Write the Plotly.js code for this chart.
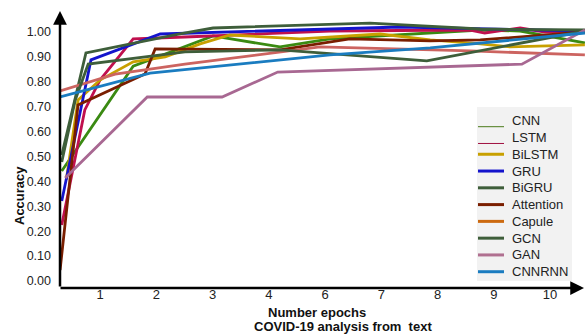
<!DOCTYPE html>
<html><head><meta charset="utf-8">
<script src="https://cdn.plot.ly/plotly-3.0.1.min.js"></script>
<style>html,body{margin:0;padding:0;background:#fff}#chart{width:585px;height:335px}</style>
</head><body><div id="chart"></div>
<script>
const seriesNames = ["CNN","LSTM","BiLSTM","GRU","BiGRU","Attention","Capule","GCN","GAN","CNNRNN"];
const xTickLabels = ["1","2","3","4","6","7","8","9","10"];
const xTickPositions = [1,2,3,4,5,6,7,8,9];

const epochsCNN = [0.32,1.59,3.01,4.20,5.09,6.87,7.76,8.47,9.62];
const accCNN    = [0.442,0.863,0.984,0.940,0.972,0.996,1.008,1.004,0.956];

const epochsLSTM = [0.32,0.73,1.00,1.59,2.51,5.09,7.58,7.84,8.47,8.91,9.62];
const accLSTM    = [0.225,0.687,0.807,0.972,0.980,1.004,1.008,0.996,1.016,1.000,1.000];

const epochsBiLSTM = [0.40,0.61,1.00,1.59,2.16,2.78,3.31,4.56,5.98,6.87,7.76,8.29,9.62];
const accBiLSTM    = [0.406,0.727,0.807,0.880,0.900,0.952,0.988,0.972,0.992,0.968,0.952,0.940,0.948];

const epochsGRU = [0.32,0.84,2.07,5.09,6.33,9.62];
const accGRU    = [0.321,0.888,0.992,1.012,1.020,1.004];

const epochsBiGRU = [0.32,0.52,0.75,2.42,3.01,5.80,7.76,9.62];
const accBiGRU    = [0.506,0.695,0.916,0.992,1.016,1.036,1.012,1.008];

const epochsAttention = [0.29,0.61,1.80,1.98,4.20,5.44,6.87,7.76,9.62];
const accAttention    = [0.044,0.707,0.831,0.932,0.928,0.972,0.964,0.968,1.000];

const epochsCapule = [0.29,1.27,2.51,4.91,7.58,9.62];
const accCapule    = [0.763,0.831,0.871,0.940,0.924,0.908];

const epochsGCN = [0.32,0.56,0.79,2.51,4.20,6.81,9.62];
const accGCN    = [0.478,0.727,0.871,0.920,0.928,0.884,1.004];

const epochsGAN = [0.38,1.84,3.17,4.16,8.50,9.62];
const accGAN    = [0.414,0.739,0.739,0.839,0.871,1.008];

const epochsCNNRNN = [0.29,1.89,5.09,6.87,9.62];
const accCNNRNN    = [0.739,0.835,0.908,0.936,0.996];

const seriesX = [epochsCNN,epochsLSTM,epochsBiLSTM,epochsGRU,epochsBiGRU,epochsAttention,epochsCapule,epochsGCN,epochsGAN,epochsCNNRNN];
const seriesY = [accCNN,accLSTM,accBiLSTM,accGRU,accBiGRU,accAttention,accCapule,accGCN,accGAN,accCNNRNN];

const lineColors   = ['#3a8a12','#c0104e','#c8a000','#1414cc','#3e5e3a','#7a1e00','#cc6460','#3e5e3a','#a86892','#1a7cc0'];
const legendColors = ['#4a7a1a','#a01040','#c8a000','#1414cc','#3e5e3a','#7a1e00','#cc6a10','#3e5e3a','#b07090','#1a7cc0'];
const legendWidths = [1,1,3,3,3,3,3,3,3,3];

const FONT = 'Liberation Sans, Arial, sans-serif';
const L = 60, R = 0, T = 12, B = 47, W = 585, H = 335;
const PW = W - L - R, PH = H - T - B;
const px2x = p => (p - L) / PW;
const px2y = p => (H - B - p) / PH;

const traces = seriesNames.map((n, i) => ({
  type: 'scatter', mode: 'lines', name: n,
  x: seriesX[i], y: seriesY[i],
  line: {color: lineColors[i], width: 2.8},
  showlegend: false, hoverinfo: 'skip'
}));

const shapes = [{
  type: 'rect', xref: 'paper', yref: 'paper',
  x0: px2x(477), x1: px2x(572), y0: px2y(281), y1: px2y(107),
  fillcolor: '#f2f2f2', line: {width: 0}, layer: 'above'
}];
const annotations = [];
seriesNames.forEach((n, i) => {
  const ty = 120.7 + 16.78 * i;
  const ly = legendWidths[i] === 1 ? ty + 6 : ty;
  shapes.push({type: 'line', xref: 'paper', yref: 'paper',
    x0: px2x(478), x1: px2x(504), y0: px2y(ly), y1: px2y(ly),
    line: {color: legendColors[i], width: legendWidths[i]}, layer: 'above'});
  annotations.push({xref: 'paper', yref: 'paper', x: px2x(510), y: px2y(ty),
    xanchor: 'left', yanchor: 'middle', showarrow: false, text: n,
    font: {family: FONT, size: 13, color: '#222'}});
});

// axes with arrows
annotations.push({xref: 'paper', yref: 'paper', x: px2x(60), y: px2y(11),
  ax: 0, ay: 277, axref: 'pixel', ayref: 'pixel', text: '', showarrow: true,
  arrowhead: 2, arrowsize: 1.1, arrowwidth: 2.5, arrowcolor: '#000', standoff: 0});
annotations.push({xref: 'paper', yref: 'paper', x: px2x(584), y: px2y(288),
  ax: -525, ay: 0, axref: 'pixel', ayref: 'pixel', text: '', showarrow: true,
  arrowhead: 2, arrowsize: 1.1, arrowwidth: 2.5, arrowcolor: '#000', standoff: 0});

annotations.push({xref: 'paper', yref: 'paper', x: px2x(19), y: px2y(196),
  text: 'Accuracy', textangle: -90, showarrow: false, xanchor: 'center', yanchor: 'middle',
  font: {family: FONT, size: 13, color: '#111', weight: 'bold'}});
annotations.push({xref: 'paper', yref: 'paper', x: px2x(317), y: px2y(312),
  text: 'Number epochs', showarrow: false, xanchor: 'center', yanchor: 'middle',
  font: {family: FONT, size: 13, color: '#111', weight: 'bold'}});
annotations.push({xref: 'paper', yref: 'paper', x: px2x(343), y: px2y(326),
  text: 'COVID-19 analysis from  text', showarrow: false, xanchor: 'center', yanchor: 'middle',
  font: {family: FONT, size: 13, color: '#111', weight: 'bold'}});

const layout = {
  width: W, height: H,
  margin: {l: L, r: R, t: T, b: B, pad: 0},
  paper_bgcolor: '#fff', plot_bgcolor: '#fff',
  font: {family: FONT, color: '#222'},
  showlegend: false,
  xaxis: {range: [1 - 40/56.25, 1 + 485/56.25], tickmode: 'array', tickvals: xTickPositions, ticktext: xTickLabels,
    showgrid: false, zeroline: false, showline: false, ticks: '', ticklabelstandoff: -3,
    tickfont: {family: FONT, size: 13, color: '#222'}, fixedrange: true},
  yaxis: {range: [-7/249, 269/249], tick0: 0, dtick: 0.1, tickformat: '.2f',
    showgrid: false, zeroline: false, showline: false, ticks: '', ticklabelstandoff: 8,
    tickfont: {family: FONT, size: 12.5, color: '#222'}, fixedrange: true},
  shapes: shapes, annotations: annotations
};
Plotly.newPlot('chart', traces, layout, {displayModeBar: false, staticPlot: true});
</script></body></html>
